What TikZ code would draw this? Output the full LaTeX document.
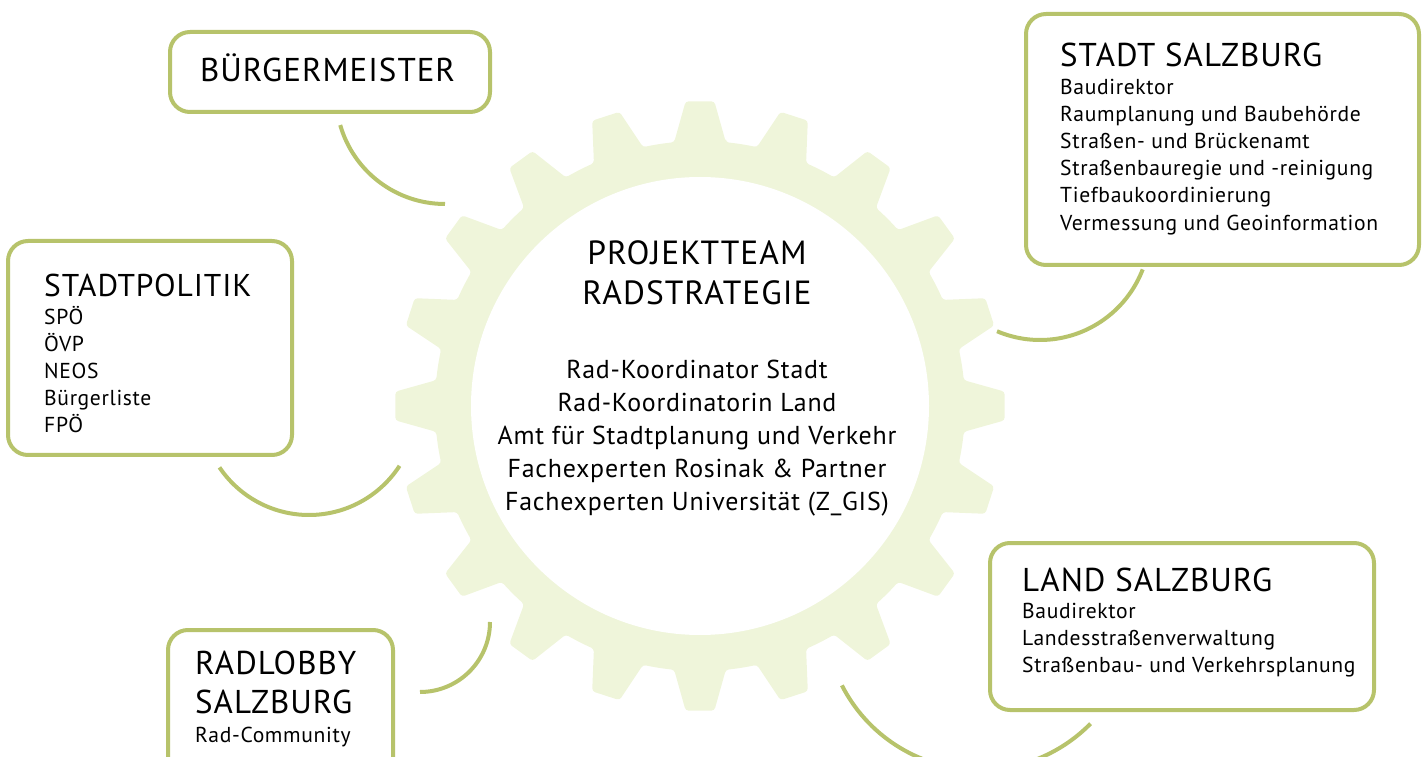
\documentclass[tikz,border=0pt]{standalone}
\usepackage{fontspec}
\setmainfont{PT Sans}[LetterSpace=3]
\usetikzlibrary{calc}
\definecolor{boxgreen}{HTML}{B7C36B}
\definecolor{gearfill}{HTML}{EFF5DA}
\tikzset{
  box/.style={draw=boxgreen, line width=4pt, rounded corners=20pt, fill=white, inner sep=0pt},
  link/.style={draw=boxgreen, line width=4pt},
  title/.style={anchor=base west, inner sep=0pt, font=\fontsize{33}{40}\selectfont},
  item/.style={anchor=base west, inner sep=0pt, font=\fontsize{21.6}{27}\selectfont},
  team/.style={anchor=base, inner sep=0pt, font=\fontsize{25.9}{33}\selectfont},
}

\begin{document}
\begin{tikzpicture}[x=1pt,y=1pt]
			%%%%% START %%%%%
			\clip (0,0) rectangle (1425,756);
			
			% gear with 20 teeth
			\fill[gearfill, shift={(700,350)}, rounded corners=3pt] (84.4:265)
			  \foreach \k in {0,...,19} {
			    -- ({90+18*\k-2.7}:305) -- ({90+18*\k+2.7}:305) -- ({90+18*\k+5.6}:265)
			    arc[start angle={90+18*\k+5.6}, end angle={90+18*\k+12.4}, radius=265]
			  } -- cycle;
			\fill[white] (700,350) circle[radius=229];
			
			\node[team, font=\fontsize{33.5}{40}\selectfont] (team-1) at (697,491) {PROJEKTTEAM};
			\node[team, font=\fontsize{33.5}{40}\selectfont] (team-2) at (697,451) {RADSTRATEGIE};
			\foreach \t [count=\i] in {Rad-Koordinator Stadt, Rad-Koordinatorin Land, Amt für Stadtplanung und Verkehr, Fachexperten Rosinak \& Partner, Fachexperten Universität (Z\_GIS)}
			  \node[team] (member-\i) at (697,410-33*\i) {\t};
			
			% boxes
			\node[box, minimum width=320pt, minimum height=80pt] (bm) at (330,684) {};
			\node[box, minimum width=284pt, minimum height=214pt] (sp) at (150,408) {};
			\node[box, minimum width=225pt, minimum height=166pt] (rl) at (280.5,43) {};
			\node[box, minimum width=393pt, minimum height=251pt] (ss) at (1222.5,616.5) {};
			\node[box, minimum width=384pt, minimum height=167pt] (ls) at (1182,129.5) {};
			
			\node[title] (bm-t) at (200,674) {BÜRGERMEISTER};
			
			\node[title, font=\fontsize{31.5}{40}\selectfont] (sp-t) at (44,459) {STADTPOLITIK};
			\foreach \t [count=\i] in {SPÖ, ÖVP, NEOS, Bürgerliste, FPÖ}
			  \node[item] (sp-\i) at (44,459-27.2*\i) {\t};
			
			\node[title] (rl-t) at (195,82) {RADLOBBY};
			\node[title] (rl-t2) at (195,43) {SALZBURG};
			\node[item] (rl-1) at (195,14) {Rad-Community};
			
			\node[title] (ss-t) at (1060,689) {STADT SALZBURG};
			\foreach \t [count=\i] in {Baudirektor, Raumplanung und Baubehörde, Straßen- und Brückenamt, Straßenbauregie und -reinigung, Tiefbaukoordinierung, Vermessung und Geoinformation}
			  \node[item] (ss-\i) at (1060,689-27.2*\i) {\t};
			
			\node[title] (ls-t) at (1022,165) {LAND SALZBURG};
			\foreach \t [count=\i] in {Baudirektor, Landesstraßenverwaltung, Straßenbau- und Verkehrsplanung}
			  \node[item] (ls-\i) at (1022,165-27*\i) {\t};
			
			% arcs towards the gear
			\coordinate (bm-c) at ($(445,661)+(196:109)$);
			\draw[link] (bm-c) arc[start angle=196, end angle=270, radius=109];
			\coordinate (sp-c) at ($(309,349)+(214:108)$);
			\draw[link] (sp-c) arc[start angle=214, end angle=327, radius=108];
			\coordinate (rl-c) at ($(420,134)+(0:70)$);
			\draw[link] (rl-c) arc[start angle=0, end angle=-90, radius=70];
			\coordinate (ss-c) at ($(1040,526)+(-21:110)$);
			\draw[link] (ss-c) arc[start angle=-21, end angle=-113, radius=110];
			\coordinate (ls-c) at ($(980,141)+(207:155)$);
			\draw[link] (ls-c) arc[start angle=207, end angle=315.5, radius=155];
			%%%%% END %%%%%
\end{tikzpicture}
\end{document}
